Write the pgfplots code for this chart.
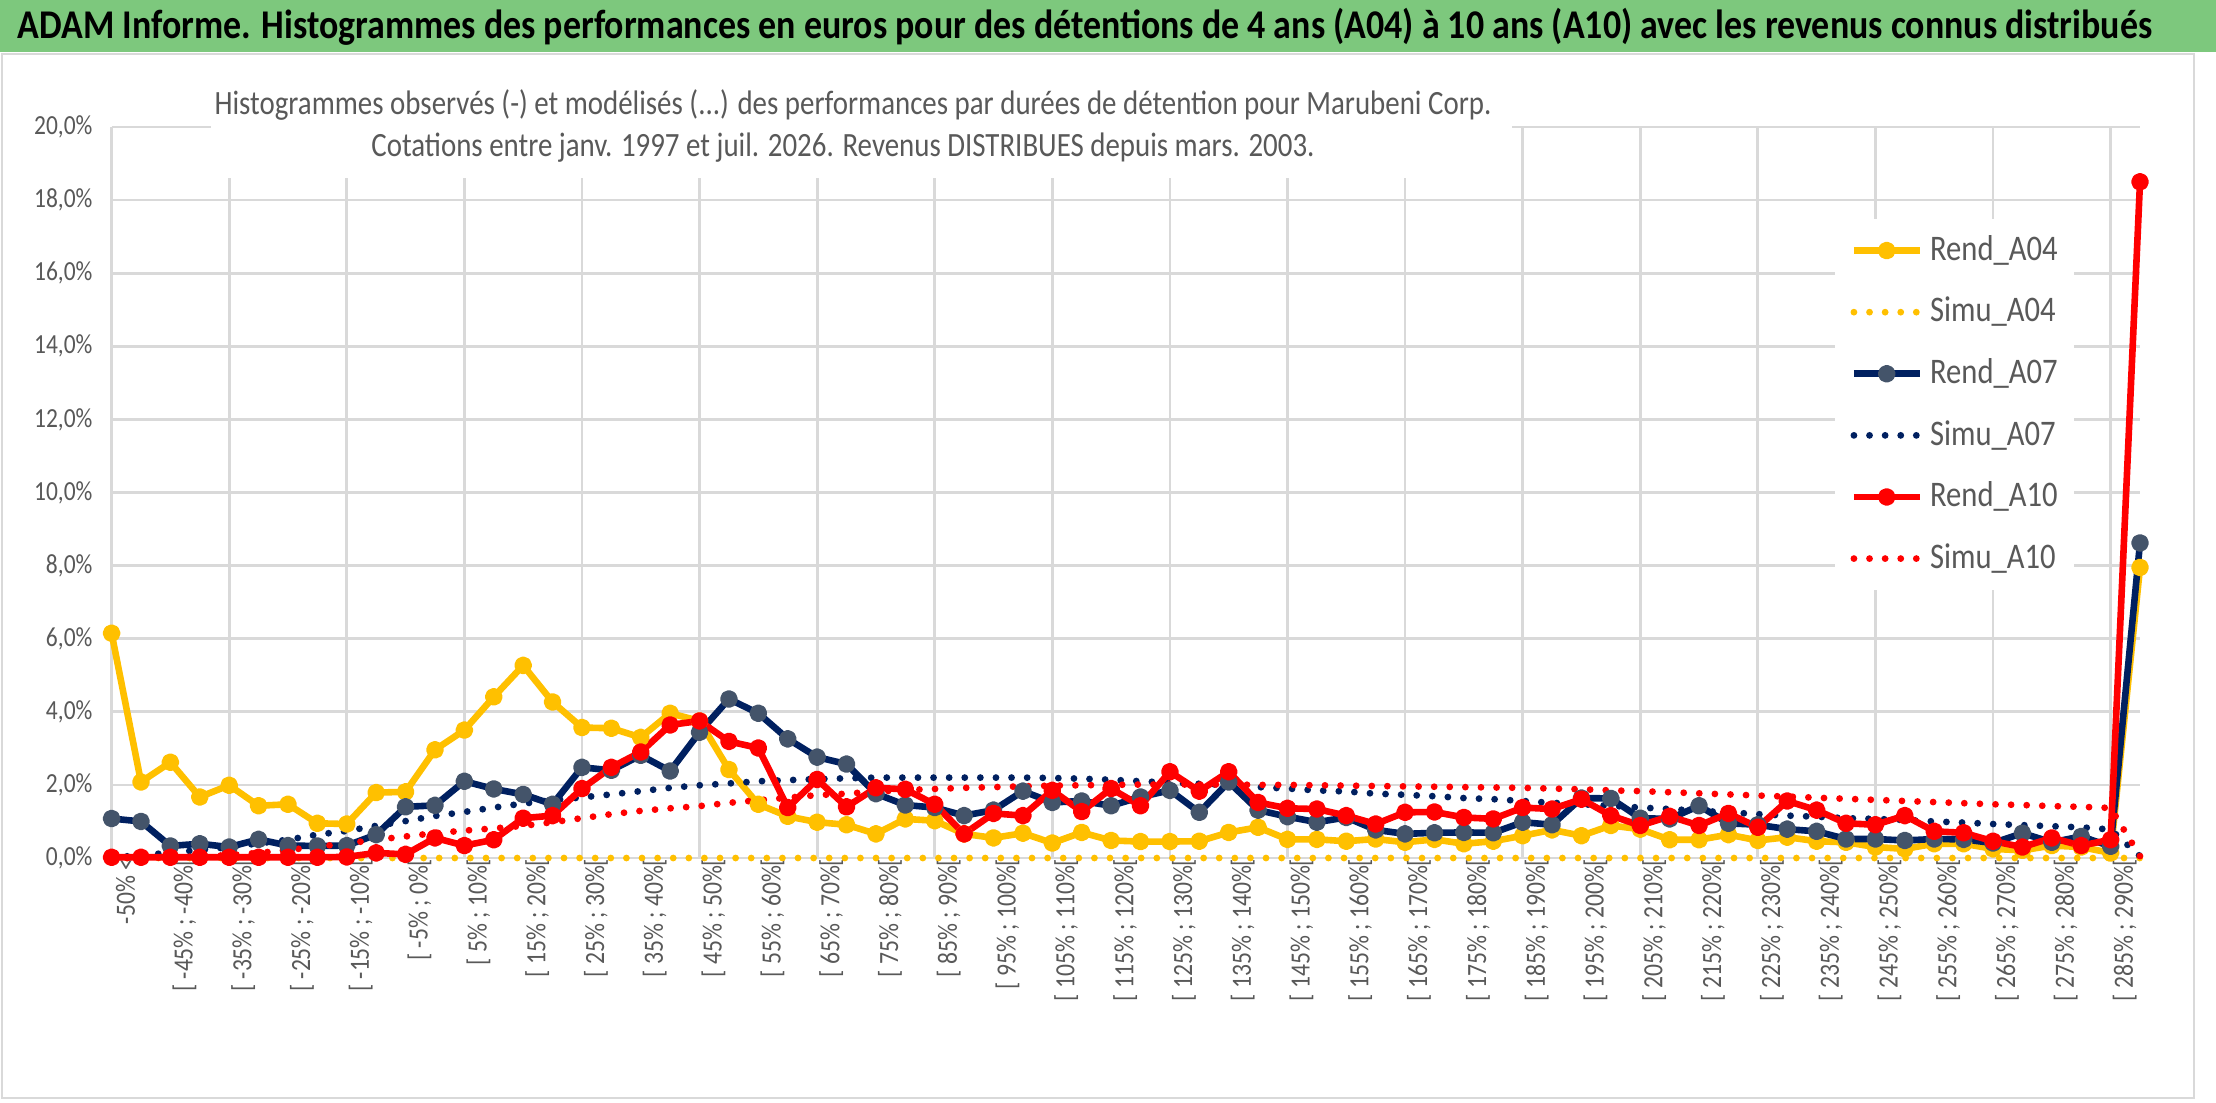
\documentclass[border=0pt]{standalone}
\usepackage{fontspec}
\setmainfont{Carlito}
\newfontfamily\cfont{Carlito}[FakeStretch=0.85]
\newfontfamily\bfont{Carlito}[FakeStretch=0.88]
\usepackage{pgfplots}
\pgfplotsset{compat=1.18}
\usepackage{pgfplotstable}

\definecolor{cyellow}{HTML}{FFC000}
\definecolor{cnavy}{HTML}{002060}
\definecolor{cmark}{HTML}{44546A}
\definecolor{cred}{HTML}{FF0000}
\definecolor{cgrid}{HTML}{D9D9D9}
\definecolor{ctext}{HTML}{595959}
\definecolor{cbanner}{HTML}{7DC87D}

\pgfplotstableread{
idx a04 s04 a07 s07 a10 s10
0 6.15 0 1.08 0.02 0.02 0.00
1 2.08 0 1.00 0.07 0.02 0.00
2 2.62 0 0.33 0.15 0.02 0.02
3 1.67 0 0.39 0.22 0.02 0.04
4 1.99 0 0.30 0.30 0.02 0.08
5 1.43 0 0.51 0.40 0.02 0.14
6 1.47 0 0.34 0.50 0.02 0.22
7 0.95 0 0.33 0.64 0.02 0.31
8 0.93 0 0.34 0.74 0.03 0.40
9 1.79 0 0.64 0.88 0.14 0.50
10 1.81 0 1.40 1.01 0.10 0.59
11 2.96 0 1.44 1.15 0.55 0.68
12 3.50 0 2.10 1.26 0.34 0.75
13 4.41 0 1.89 1.38 0.50 0.81
14 5.27 0 1.74 1.49 1.09 0.88
15 4.27 0 1.47 1.58 1.16 0.98
16 3.57 0 2.48 1.66 1.90 1.09
17 3.55 0 2.40 1.74 2.48 1.20
18 3.30 0 2.81 1.83 2.90 1.29
19 3.96 0 2.38 1.92 3.64 1.36
20 3.75 0 3.44 1.99 3.75 1.42
21 2.42 0 4.35 2.04 3.19 1.51
22 1.47 0 3.96 2.10 3.01 1.58
23 1.14 0 3.26 2.13 1.38 1.65
24 0.98 0 2.76 2.16 2.15 1.72
25 0.91 0 2.57 2.18 1.40 1.76
26 0.66 0 1.76 2.20 1.92 1.82
27 1.07 0 1.45 2.20 1.88 1.86
28 1.02 0 1.38 2.20 1.47 1.89
29 0.66 0 1.16 2.20 0.66 1.92
30 0.55 0 1.31 2.20 1.22 1.94
31 0.68 0 1.83 2.20 1.16 1.96
32 0.41 0 1.52 2.19 1.85 1.98
33 0.70 0 1.56 2.17 1.27 1.99
34 0.48 0 1.43 2.14 1.90 2.00
35 0.45 0 1.67 2.10 1.43 2.01
36 0.45 0 1.85 2.06 2.36 2.01
37 0.46 0 1.25 2.03 1.83 2.01
38 0.70 0 2.08 2.00 2.36 2.01
39 0.84 0 1.31 1.94 1.52 2.00
40 0.51 0 1.13 1.90 1.36 2.00
41 0.51 0 0.98 1.85 1.34 1.99
42 0.46 0 1.11 1.82 1.16 1.98
43 0.52 0 0.77 1.76 0.93 1.97
44 0.43 0 0.66 1.73 1.25 1.96
45 0.51 0 0.69 1.69 1.26 1.95
46 0.39 0 0.70 1.64 1.11 1.94
47 0.46 0 0.69 1.61 1.07 1.93
48 0.61 0 0.98 1.56 1.38 1.92
49 0.77 0 0.91 1.51 1.34 1.90
50 0.61 0 1.64 1.47 1.61 1.88
51 0.89 0 1.63 1.43 1.16 1.85
52 0.79 0 1.09 1.38 0.89 1.83
53 0.50 0 1.07 1.34 1.14 1.80
54 0.50 0 1.43 1.29 0.89 1.77
55 0.64 0 0.95 1.25 1.22 1.74
56 0.48 0 0.91 1.20 0.84 1.71
57 0.57 0 0.79 1.16 1.56 1.68
58 0.46 0 0.73 1.13 1.31 1.65
59 0.43 0 0.52 1.09 0.95 1.62
60 0.30 0 0.52 1.07 0.91 1.59
61 0.25 0 0.48 1.04 1.16 1.56
62 0.39 0 0.52 1.00 0.73 1.53
63 0.39 0 0.51 0.97 0.69 1.50
64 0.25 0 0.41 0.93 0.46 1.47
65 0.21 0 0.68 0.90 0.30 1.45
66 0.34 0 0.43 0.87 0.55 1.42
67 0.30 0 0.59 0.84 0.34 1.40
68 0.14 0 0.32 0.78 0.50 1.37
69 7.95 0 8.62 0.05 18.50 0.05
}\data

\begin{document}
\begin{tikzpicture}[x=1bp,y=1bp]
\useasboundingbox (0,0) rectangle (554,275.5);
\fill[white] (0,0) rectangle (554,275.5);
\draw[cgrid, line width=0.5bp] (0.5,1) rectangle (548.5,262);
\fill[cbanner] (0,262.5) rectangle (554,275.5);
\node[anchor=west, inner sep=0pt, text=black] at (4.25,268.7)
  {\bfont\fontsize{10.2bp}{11bp}\selectfont\bfseries ADAM Informe. Histogrammes des performances en euros pour des détentions de 4 ans (A04) à 10 ans (A10) avec les revenus connus distribués};

\begin{axis}[
  at={(27.9bp,61bp)}, anchor=south west, scale only axis,
  width=507.1bp, height=182.75bp,
  xmin=0, xmax=69, ymin=0, ymax=20,
  axis line style={draw=none},
  clip=false,
  major tick length=0pt,
  ytick={0,2,...,20},
  yticklabels={{0,0\%},{2,0\%},{4,0\%},{6,0\%},{8,0\%},{10,0\%},{12,0\%},{14,0\%},{16,0\%},{18,0\%},{20,0\%}},
  ymajorgrids,
  grid style={cgrid, line width=0.7bp},
  xtick={0,2,...,68},
  xticklabels={{-50\% <},{[ -45\% ; -40\%[},{[ -35\% ; -30\%[},{[ -25\% ; -20\%[},{[ -15\% ; -10\%[},{[ -5\% ; 0\%[},{[ 5\% ; 10\%[},{[ 15\% ; 20\%[},{[ 25\% ; 30\%[},{[ 35\% ; 40\%[},{[ 45\% ; 50\%[},{[ 55\% ; 60\%[},{[ 65\% ; 70\%[},{[ 75\% ; 80\%[},{[ 85\% ; 90\%[},{[ 95\% ; 100\%[},{[ 105\% ; 110\%[},{[ 115\% ; 120\%[},{[ 125\% ; 130\%[},{[ 135\% ; 140\%[},{[ 145\% ; 150\%[},{[ 155\% ; 160\%[},{[ 165\% ; 170\%[},{[ 175\% ; 180\%[},{[ 185\% ; 190\%[},{[ 195\% ; 200\%[},{[ 205\% ; 210\%[},{[ 215\% ; 220\%[},{[ 225\% ; 230\%[},{[ 235\% ; 240\%[},{[ 245\% ; 250\%[},{[ 255\% ; 260\%[},{[ 265\% ; 270\%[},{[ 275\% ; 280\%[},{[ 285\% ; 290\%[}},
  extra x ticks={0,4,...,68},
  extra x tick labels={},
  extra x tick style={grid=major, major tick length=0pt},
  /pgf/number format/assume math mode=true,
  yticklabel style={anchor=east, inner sep=0pt, xshift=-4.6bp, text=ctext, font=\cfont\fontsize{6.9bp}{8bp}\selectfont},
  xticklabel style={rotate=90, anchor=east, inner sep=0pt, yshift=-3.5bp, text=ctext, font=\cfont\fontsize{6.95bp}{8bp}\selectfont},
  legend cell align=left,
  legend image code/.code={\draw[mark repeat=2,mark phase=2,#1] plot coordinates {(0bp,0bp) (8.2bp,0bp) (16.4bp,0bp)};},
  legend style={at={(0.849,0.875)}, anchor=north west, draw=none, fill=white,
    inner xsep=4bp, inner ysep=3.8bp, row sep=7.3bp,
    font=\cfont\fontsize{9bp}{10bp}\selectfont, text=ctext,
    nodes={inner sep=0pt, text height=6.5bp, text depth=1.6bp},
    /tikz/every odd column/.append style={column sep=1.8bp}},
  rend/.style={line width=1.65bp, line join=round, mark=*, mark size=1.4bp, mark options={solid}},
  simu/.style={line width=1.7bp, line cap=round, dash pattern=on 0bp off 3.9bp, mark=none},
]
\addplot[rend, color=cyellow, mark options={fill=cyellow, draw=cyellow}] table[x=idx, y=a04] {\data};
\addlegendentry{Rend\_A04}
\addplot[simu, color=cyellow] table[x=idx, y=s04] {\data};
\addlegendentry{Simu\_A04}
\addplot[rend, color=cnavy, mark options={fill=cmark, draw=cmark}] table[x=idx, y=a07] {\data};
\addlegendentry{Rend\_A07}
\addplot[simu, color=cnavy] table[x=idx, y=s07] {\data};
\addlegendentry{Simu\_A07}
\addplot[rend, color=cred, mark options={fill=cred, draw=cred}] table[x=idx, y=a10] {\data};
\addlegendentry{Rend\_A10}
\addplot[simu, color=cred] table[x=idx, y=s10] {\data};
\addlegendentry{Simu\_A10}
\end{axis}

\fill[white] (52.75,231) rectangle (378,259);
\node[text=ctext, inner sep=0pt] at (213.25,249.25)
  {\cfont\fontsize{8.5bp}{10bp}\selectfont Histogrammes observés (-) et modélisés (...) des performances par durées de détention pour Marubeni Corp.};
\node[text=ctext, inner sep=0pt] at (210.75,238.5)
  {\cfont\fontsize{8.5bp}{10bp}\selectfont Cotations entre janv. 1997 et juil. 2026. Revenus DISTRIBUES depuis mars. 2003.};
\end{tikzpicture}
\end{document}
